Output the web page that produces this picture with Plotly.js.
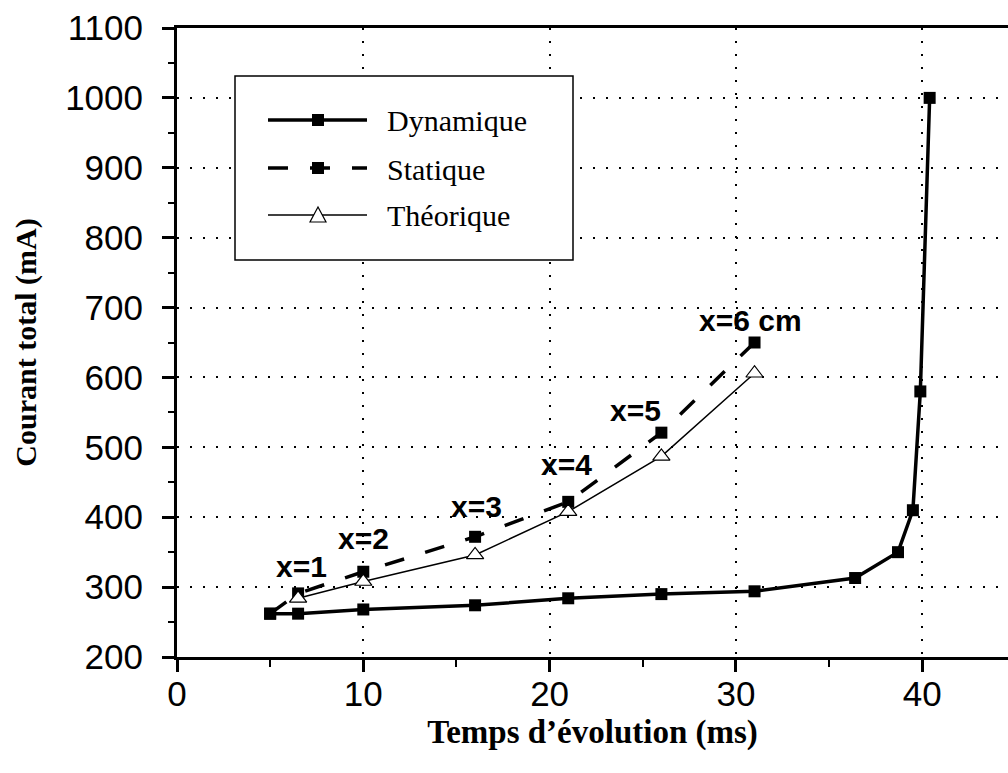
<!DOCTYPE html>
<html>
<head>
<meta charset="utf-8">
<script src="https://cdn.plot.ly/plotly-3.0.1.min.js"></script>
<style>
  html, body { margin: 0; padding: 0; background: #fff; overflow: hidden; }
  #chart { width: 1008px; height: 773px; }
</style>
</head>
<body>
<div id="chart"></div>
<script>
// Temps d'évolution (ms) vs courant total (mA)
const timeDyn = [5, 6.5, 10, 16, 21, 26, 31, 36.4, 38.7, 39.5, 39.9, 40.4];
const curDyn  = [262, 262, 268, 274, 284, 290, 294, 313, 350, 410, 580, 1000];

const timeStat = [5, 6.5, 10, 16, 21, 26, 31];
const curStat  = [262, 291, 322, 372, 422, 521, 650];

const timeTheo = [6.5, 10, 16, 21, 26, 31];
const curTheo  = [284, 308, 346, 408, 487, 606];

// Position labels along the curves
const posLabels = ['x=1', 'x=2', 'x=3', 'x=4', 'x=5', 'x=6 cm'];
const posLabelX = [6.7, 10.0, 16.1, 20.9, 24.6, 30.8];
const posLabelY = [329, 370, 415, 475, 553, 682];

const seriesNames = ['Dynamique', 'Statique', 'Théorique'];

const xTickVals = [0, 10, 20, 30, 40];
const yTickVals = [200, 300, 400, 500, 600, 700, 800, 900, 1000, 1100];

// plot-area geometry (pixels)
const M = { l: 177, t: 28, r: 0, b: 116 };
const PW = 1008 - M.l - M.r, PH = 773 - M.t - M.b;
const px = x => (x - M.l) / PW;
const py = y => (M.t + PH - y) / PH;

const statDash = '20px,22px';

const traces = [
  { x: timeDyn, y: curDyn, name: seriesNames[0], mode: 'lines+markers',
    line: { color: '#000', width: 3.5 },
    marker: { symbol: 'square', size: 12, color: '#000' } },
  { x: timeStat, y: curStat, name: seriesNames[1], mode: 'lines+markers',
    line: { color: '#000', width: 3.5, dash: statDash },
    marker: { symbol: 'square', size: 12, color: '#000' } },
  { x: timeTheo, y: curTheo, name: seriesNames[2], mode: 'lines+markers',
    line: { color: '#000', width: 1.5 },
    marker: { symbol: 'triangle-up', size: 15, color: '#fff', line: { color: '#000', width: 1.2 } } }
];

// legend drawn as a framed box with long line samples
const legRows = [120, 168, 215];
const shapes = [
  { type: 'rect', xref: 'paper', yref: 'paper', x0: px(235), x1: px(573), y0: py(260), y1: py(76),
    line: { color: '#000', width: 1.5 }, fillcolor: '#fff', layer: 'above' },
  { type: 'line', xref: 'paper', yref: 'paper', x0: px(268), x1: px(367), y0: py(legRows[0]), y1: py(legRows[0]),
    line: { color: '#000', width: 3.5 }, layer: 'above' },
  { type: 'rect', xref: 'paper', yref: 'paper', x0: px(312), x1: px(324), y0: py(legRows[0] + 6), y1: py(legRows[0] - 6),
    line: { width: 0 }, fillcolor: '#000', layer: 'above' },
  { type: 'line', xref: 'paper', yref: 'paper', x0: px(268), x1: px(367), y0: py(legRows[1]), y1: py(legRows[1]),
    line: { color: '#000', width: 3.5, dash: statDash }, layer: 'above' },
  { type: 'rect', xref: 'paper', yref: 'paper', x0: px(312), x1: px(324), y0: py(legRows[1] + 6), y1: py(legRows[1] - 6),
    line: { width: 0 }, fillcolor: '#000', layer: 'above' },
  { type: 'line', xref: 'paper', yref: 'paper', x0: px(268), x1: px(367), y0: py(legRows[2]), y1: py(legRows[2]),
    line: { color: '#000', width: 1.5 }, layer: 'above' },
  { type: 'path', xref: 'paper', yref: 'paper', layer: 'above',
    path: 'M' + px(310) + ',' + py(legRows[2] + 7) + ' L' + px(326) + ',' + py(legRows[2] + 7) +
          ' L' + px(318) + ',' + py(legRows[2] - 8) + ' Z',
    fillcolor: '#fff', line: { color: '#000', width: 1.2 } }
];

const annotations = [];
seriesNames.forEach((n, i) => annotations.push({
  xref: 'paper', yref: 'paper', x: px(385), y: py(legRows[i] + 1), xanchor: 'left', yanchor: 'middle',
  text: n, showarrow: false, font: { family: 'Liberation Serif, Times New Roman, serif', size: 30, color: '#000' }
}));
posLabels.forEach((t, i) => annotations.push({
  x: posLabelX[i], y: posLabelY[i], xref: 'x', yref: 'y', xanchor: 'center', yanchor: 'middle',
  text: '<b>' + t + '</b>', showarrow: false,
  font: { family: 'Liberation Sans, Arial, sans-serif', size: 30, color: '#000' }
}));

const gridStyle = { showgrid: true, gridcolor: '#000', gridwidth: 2, griddash: '2px,11px' };

const layout = {
  width: 1008, height: 773,
  margin: M,
  paper_bgcolor: '#fff', plot_bgcolor: '#fff',
  showlegend: false,
  font: { family: 'Liberation Sans, Arial, sans-serif', color: '#000' },
  xaxis: Object.assign({
    range: [0, PW / 18.63],
    tickvals: xTickVals, ticks: 'outside', ticklen: 12, tickwidth: 3, tickcolor: '#000',
    tickfont: { size: 35, family: 'Liberation Sans, Arial, sans-serif' }, ticklabelstandoff: -8,
    showline: true, linecolor: '#000', linewidth: 3, mirror: true, zeroline: false,
    minor: { dtick: 5, tick0: 0, ticks: 'outside', ticklen: 7, tickwidth: 2, tickcolor: '#000', showgrid: false },
    title: { text: '<b>Temps d’évolution (ms)</b>', standoff: 8,
             font: { family: 'Liberation Serif, Times New Roman, serif', size: 33, color: '#000' } }
  }, gridStyle),
  yaxis: Object.assign({
    range: [200, 1100],
    tickvals: yTickVals, ticks: 'outside', ticklen: 12, tickwidth: 3, tickcolor: '#000',
    tickfont: { size: 35, family: 'Liberation Sans, Arial, sans-serif' }, ticklabelstandoff: 12,
    showline: true, linecolor: '#000', linewidth: 3, mirror: false, zeroline: false,
    minor: { dtick: 50, tick0: 200, ticks: 'outside', ticklen: 6, tickwidth: 2, tickcolor: '#000', showgrid: false },
    title: { text: '<b>Courant total (mA)</b>', standoff: 20,
             font: { family: 'Liberation Serif, Times New Roman, serif', size: 30, color: '#000' } }
  }, gridStyle),
  shapes: shapes,
  annotations: annotations
};

Plotly.newPlot('chart', traces, layout, { staticPlot: true, displayModeBar: false });
</script>
</body>
</html>
